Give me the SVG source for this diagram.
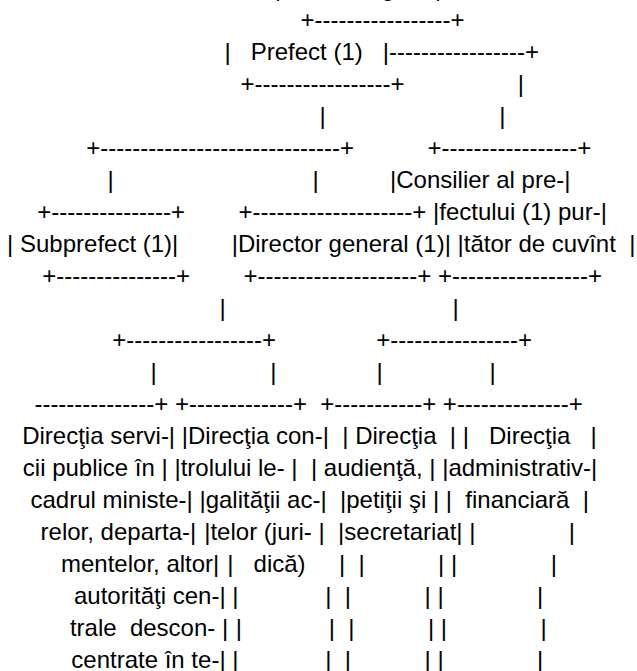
<svg xmlns="http://www.w3.org/2000/svg" width="637" height="671" viewBox="0 0 637 671" xml:space="preserve">
<style>
text { font-family: "Liberation Sans", Arial, Helvetica, sans-serif; font-size: 24px; fill: #000; white-space: pre; }
</style>
<rect width="637" height="671" fill="#fff"/>
<g id="node-top-cropped">
<text x="274.8" y="-4">|</text>
<text x="381.5" y="-4">g</text>
<text x="434.8" y="-4">|</text>
</g>
<g id="node-prefect">
<text x="300.5" y="28">+-----------------+</text>
<text x="224.5" y="60">|   Prefect (1)   |</text>
<text x="240.5" y="92">+-----------------+</text>
</g>
<g id="node-consilier">
<text x="427.48" y="156">+-----------------+</text>
<text x="390" y="188">|Consilier al pre-|</text>
<text x="433.03" y="220">|fectului (1) pur-|</text>
<text x="457.55" y="252">|tător de cuvînt  |</text>
<text x="438.03" y="284">+-----------------+</text>
</g>
<g id="node-subprefect">
<text x="37.2" y="220">+---------------+</text>
<text x="7.1" y="252">| Subprefect (1)|</text>
<text x="42.2" y="284">+---------------+</text>
</g>
<g id="node-director-general">
<text x="238.49" y="220">+--------------------+</text>
<text x="231.69" y="252">|Director general (1)|</text>
<text x="243.49" y="284">+--------------------+</text>
</g>
<g id="connectors">
<text x="389.04" y="60">-----------------+</text>
<text x="517.82" y="92">|</text>
<text x="319.5" y="124">|</text>
<text x="499.21" y="124">|</text>
<text x="86.3" y="156">+------------------------------+</text>
<text x="107.6" y="188">|</text>
<text x="312.5" y="188">|</text>
<text x="219.5" y="316">|</text>
<text x="452.59" y="316">|</text>
<text x="112.2" y="348">+-----------------+</text>
<text x="376.18" y="348">+----------------+</text>
<text x="150.5" y="380">|</text>
<text x="270.16" y="380">|</text>
<text x="376.48" y="380">|</text>
<text x="489.47" y="380">|</text>
</g>
<g id="node-directia-servicii-publice">
<text x="34.4" y="412">---------------+</text>
<text x="22.2" y="444">Direcţia servi-|</text>
<text x="22.8" y="476">cii publice în |</text>
<text x="30.5" y="508">cadrul ministe-|</text>
<text x="40.6" y="540">relor, departa-|</text>
<text x="61" y="572">mentelor, altor|</text>
<text x="74" y="604">autorităţi cen-|</text>
<text x="69.9" y="636">trale  descon- |</text>
<text x="71.3" y="668">centrate în te-|</text>
</g>
<g id="node-directia-controlul-legalitatii">
<text x="174.97" y="412">+-------------+</text>
<text x="181.78" y="444">|Direcţia con-|</text>
<text x="174.43" y="476">|trolului le- |</text>
<text x="199.44" y="508">|galităţii ac-|</text>
<text x="204.23" y="540">|telor (juri- |</text>
<text x="227.3" y="572">|   dică)     |</text>
<text x="232.3" y="604">|             |</text>
<text x="235.74" y="636">|             |</text>
<text x="232.29" y="668">|             |</text>
</g>
<g id="node-directia-audienta">
<text x="320.24" y="412">+-----------+</text>
<text x="342.29" y="444">| Direcţia  |</text>
<text x="310.94" y="476">| audienţă, |</text>
<text x="339.96" y="508">|petiţii şi |</text>
<text x="338.05" y="540">|secretariat|</text>
<text x="358.51" y="572">|           |</text>
<text x="344.86" y="604">|           |</text>
<text x="348.3" y="636">|           |</text>
<text x="344.85" y="668">|           |</text>
</g>
<g id="node-directia-administrativ-financiara">
<text x="442.86" y="412">+--------------+</text>
<text x="462.79" y="444">|   Direcţia   |</text>
<text x="442.17" y="476">|administrativ-|</text>
<text x="445.8" y="508">|  financiară  |</text>
<text x="469.24" y="540">|              |</text>
<text x="451.05" y="572">|              |</text>
<text x="437.4" y="604">|              |</text>
<text x="440.84" y="636">|              |</text>
<text x="437.39" y="668">|              |</text>
</g>
</svg>
